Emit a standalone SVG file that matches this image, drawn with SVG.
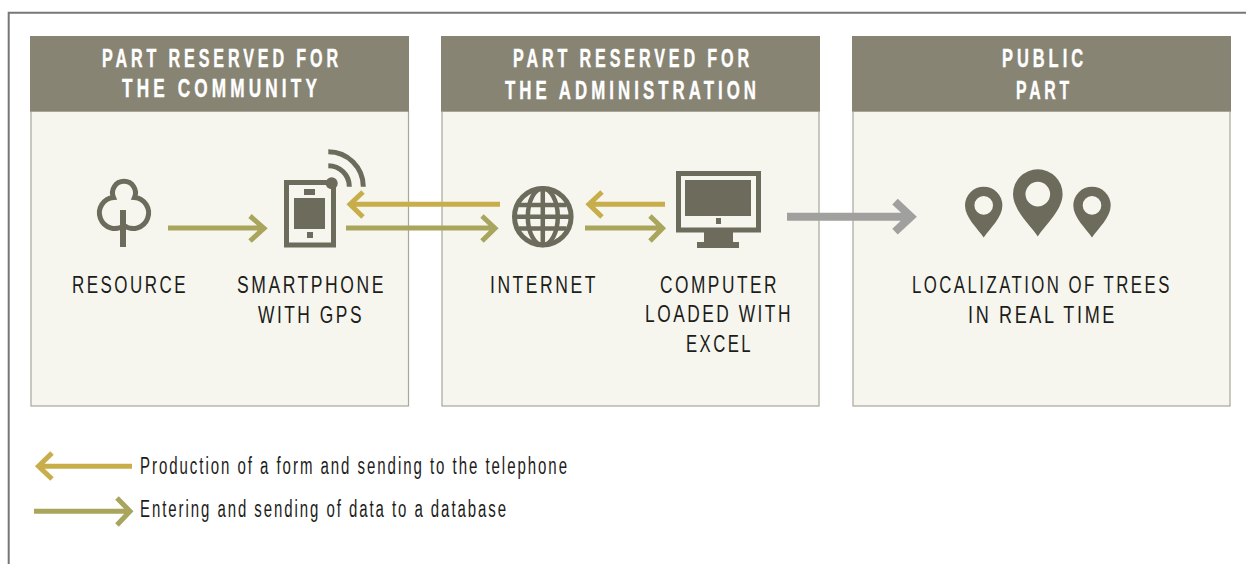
<svg xmlns="http://www.w3.org/2000/svg" width="1246" height="564" viewBox="0 0 1246 564">
<style>
text{font-family:"Liberation Sans",Arial,sans-serif}
.panel{fill:#f6f6ef;stroke:#a9a79a;stroke-width:1.2}
.head{fill:#878474}
.h{font-size:25px;font-weight:700;fill:#fff;stroke:#fff;stroke-width:.4;letter-spacing:6px}
.l{font-size:24px;fill:#1c1c1a;letter-spacing:3.500px}
.t{font-size:23px;fill:#1c1c1a;letter-spacing:3px}
.icon{fill:#6d6b5c}
.ol{fill:none;stroke:#6d6b5c;stroke-width:5}
.a{fill:none;stroke-width:5}
.gold{stroke:#c8ae4a}
.olive{stroke:#a9a55c}
.grey{stroke:#a0a09e;stroke-width:8}
</style>
<defs>
<path id="pin" fill-rule="evenodd" d="M0 32C-6 23-18.700 12-18.700 0A18.700 18.700 0 1 1 18.700 0C18.700 12 6 23 0 32ZM0-9.300A9.300 9.300 0 1 0 0 9.300A9.300 9.300 0 1 0 0-9.300Z"/>
</defs>
<rect width="1246" height="564" fill="#fff"/>
<path id="frame" d="M8.700 564V12.800H1246" fill="none" stroke="#777" stroke-width="2"/>
<g id="part-community">
<rect class="panel" x="31" y="111" width="377.500" height="295"/>
<rect class="head" x="30" y="36" width="379" height="75.500"/>
<text class="h" x="102" y="67" textLength="240" lengthAdjust="spacingAndGlyphs">PART RESERVED FOR</text>
<text class="h" x="122" y="97" textLength="199" lengthAdjust="spacingAndGlyphs">THE COMMUNITY</text>
</g>
<g id="part-administration">
<rect class="panel" x="442" y="111" width="377" height="295"/>
<rect class="head" x="441" y="36" width="379" height="75.500"/>
<text class="h" x="513" y="67" textLength="240" lengthAdjust="spacingAndGlyphs">PART RESERVED FOR</text>
<text class="h" x="505" y="99" textLength="255" lengthAdjust="spacingAndGlyphs">THE ADMINISTRATION</text>
</g>
<g id="part-public">
<rect class="panel" x="853" y="111" width="377" height="295"/>
<rect class="head" x="852" y="36" width="379" height="75.500"/>
<text class="h" x="1002" y="67" textLength="85" lengthAdjust="spacingAndGlyphs">PUBLIC</text>
<text class="h" x="1016" y="99" textLength="57" lengthAdjust="spacingAndGlyphs">PART</text>
</g>
<g id="resource">
<path class="ol" d="M124 225.500A15.500 15.500 0 1 1 113.500 197.500A11.500 11.500 0 1 1 134.500 197.500A15.500 15.500 0 1 1 124 225.500Z"/>
<rect class="icon" x="120" y="210" width="6" height="37"/>
<text class="l" x="72" y="293" textLength="116" lengthAdjust="spacingAndGlyphs">RESOURCE</text>
</g>
<g id="smartphone">
<rect class="ol" x="286.500" y="182.500" width="47" height="62.500"/>
<rect class="icon" x="294" y="198" width="31" height="31"/>
<rect class="icon" x="304" y="189" width="11" height="6"/>
<rect class="icon" x="307" y="232" width="6" height="6"/>
<circle class="icon" cx="331.700" cy="183.300" r="6"/>
<path class="ol" d="M328.300 151.700A35 35 0 0 1 363.300 186.700M328.300 165.700A21 21 0 0 1 349.300 186.700"/>
<text class="l" x="237" y="293" textLength="149" lengthAdjust="spacingAndGlyphs">SMARTPHONE</text>
<text class="l" x="258" y="323" textLength="106" lengthAdjust="spacingAndGlyphs">WITH GPS</text>
</g>
<g id="internet">
<circle class="ol" cx="542.800" cy="216.700" r="28.300"/>
<ellipse class="ol" cx="542.800" cy="216.700" rx="15" ry="28.300" style="stroke-width:4.500"/>
<path class="ol" d="M542.800 188.400V245M514.500 216.700H571M519 205H566.500M519 228.400H566.500" style="stroke-width:4.500"/>
<text class="l" x="490" y="293" textLength="108" lengthAdjust="spacingAndGlyphs">INTERNET</text>
</g>
<g id="computer">
<rect class="ol" x="678.500" y="173.500" width="80" height="56.500"/>
<rect class="icon" x="685" y="180" width="66" height="36"/>
<rect class="icon" x="716" y="218" width="5" height="6"/>
<rect class="icon" x="704" y="232" width="29" height="11"/>
<rect class="icon" x="697" y="242" width="42" height="6"/>
<text class="l" x="660" y="293" textLength="119" lengthAdjust="spacingAndGlyphs">COMPUTER</text>
<text class="l" x="645" y="322" textLength="148" lengthAdjust="spacingAndGlyphs">LOADED WITH</text>
<text class="l" x="686" y="352" textLength="67" lengthAdjust="spacingAndGlyphs">EXCEL</text>
</g>
<g id="localization">
<use href="#pin" class="icon" x="983.700" y="205.400"/>
<use href="#pin" class="icon" transform="translate(1037.800 194.100) scale(1.326)"/>
<use href="#pin" class="icon" x="1092" y="205.400"/>
<text class="l" transform="translate(912 293) scale(.7 1)">LOCALIZATION OF TREES</text>
<text class="l" x="968" y="323" textLength="149" lengthAdjust="spacingAndGlyphs">IN REAL TIME</text>
</g>
<g id="connectors">
<path class="a olive" d="M168 228H262M250 216L264 228.200L250 241"/>
<path class="a gold" d="M500 204.300H352M363 192L350 204.300L363 217"/>
<path class="a olive" d="M346 228H494M482 216L495 228.200L482 241"/>
<path class="a gold" d="M665 204.300H591M602 192L589 204.300L602 217"/>
<path class="a olive" d="M585 228H660M650 216L662.500 228.200L650 241"/>
<path class="a grey" d="M787 216.700H909M895 201.700L911 216.700L895 231.700"/>
</g>
<g id="legend">
<path class="a gold" d="M132 466.300H40M52 453L38.500 466.300L52 479"/>
<text class="t" x="140" y="474" textLength="429" lengthAdjust="spacingAndGlyphs">Production of a form and sending to the telephone</text>
<path class="a olive" d="M34 511.300H128M117 498L130 511.300L117 525"/>
<text class="t" x="140" y="517" textLength="368" lengthAdjust="spacingAndGlyphs">Entering and sending of data to a database</text>
</g>
</svg>
